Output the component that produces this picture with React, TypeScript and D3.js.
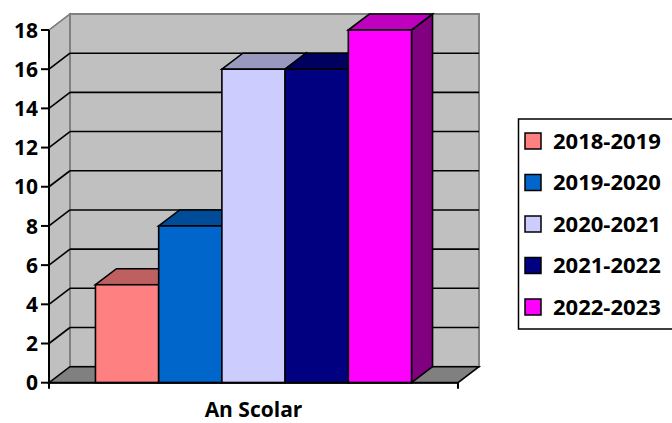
import React from "react";
import * as d3 from "d3";

const categories = ["An Scolar"];
const seriesNames = ["2018-2019", "2019-2020", "2020-2021", "2021-2022", "2022-2023"];
const seriesValues = [5, 8, 16, 16, 18];
const yTicks = [0, 2, 4, 6, 8, 10, 12, 14, 16, 18];
const frontColors = ["#FF8080", "#0066CC", "#CCCCFF", "#000080", "#FF00FF"];
const topColors = ["#BF6060", "#004C99", "#9999BF", "#000060", "#BF00BF"];
const sideColors = ["#804040", "#003366", "#666680", "#000040", "#800080"];

const W = 672;
const H = 423;
const left = 49;
const right = 458;
const y0 = 382.7;
const yTop = 30;
const DX = 21;
const DY = -16;

export default function App() {
  const y = d3.scaleLinear().domain([0, 18]).range([y0, yTop]);
  const x = d3
    .scaleBand<string>()
    .domain(seriesNames)
    .range([left, right])
    .paddingInner(0)
    .paddingOuter(0.735);
  const bw = x.bandwidth();
  const font = "'Open Sans', sans-serif";
  const legendY = d3.scalePoint<string>().domain(seriesNames).range([141, 307]);

  const pts = (arr: [number, number][]) => arr.map((p) => p.join(",")).join(" ");

  return (
    <svg
      width={W}
      height={H}
      style={{ position: "absolute", left: 0, top: 0, background: "#fff" }}
    >
      {/* left wall */}
      <polygon
        points={pts([
          [left, y0],
          [left + DX, y0 + DY],
          [left + DX, yTop + DY],
          [left, yTop],
        ])}
        fill="#C0C0C0"
        stroke="#808080"
        strokeWidth={1.5}
      />
      {/* back wall */}
      <rect
        x={left + DX}
        y={yTop + DY}
        width={right - left}
        height={y0 - yTop}
        fill="#C0C0C0"
        stroke="#808080"
        strokeWidth={2}
      />
      {/* floor */}
      <polygon
        points={pts([
          [left, y0],
          [right, y0],
          [right + DX, y0 + DY],
          [left + DX, y0 + DY],
        ])}
        fill="#808080"
        stroke="#000"
        strokeWidth={1.5}
      />
      {/* gridlines */}
      {yTicks
        .filter((t) => t > 0 && t < 18)
        .map((t) => (
          <g key={t}>
            <line
              x1={left + DX}
              x2={right + DX}
              y1={y(t) + DY}
              y2={y(t) + DY}
              stroke="#000"
              strokeWidth={1.6}
            />
            <line
              x1={left}
              x2={left + DX}
              y1={y(t)}
              y2={y(t) + DY}
              stroke="#000"
              strokeWidth={1.6}
            />
          </g>
        ))}
      <line x1={left} x2={left + DX} y1={yTop} y2={yTop + DY} stroke="#808080" strokeWidth={1.5} />
      {/* bars */}
      {seriesNames.map((s, i) => {
        const v = seriesValues[i];
        const bx = x(s)!;
        const by = y(v);
        return (
          <g key={s} stroke="#000" strokeWidth={1.6} strokeLinejoin="miter">
            <polygon
              points={pts([
                [bx + bw, by],
                [bx + bw + DX, by + DY],
                [bx + bw + DX, y0 + DY],
                [bx + bw, y0],
              ])}
              fill={sideColors[i]}
            />
            <polygon
              points={pts([
                [bx, by],
                [bx + DX, by + DY],
                [bx + bw + DX, by + DY],
                [bx + bw, by],
              ])}
              fill={topColors[i]}
            />
            <rect x={bx} y={by} width={bw} height={y0 - by} fill={frontColors[i]} />
          </g>
        );
      })}
      {/* axes */}
      <line x1={left} x2={left} y1={yTop} y2={y0} stroke="#000" strokeWidth={2} />
      <line x1={left} x2={right} y1={y0} y2={y0} stroke="#000" strokeWidth={2} />
      <line x1={right} x2={right} y1={y0} y2={y0 + 6} stroke="#000" strokeWidth={2} />
      <line x1={left} x2={left} y1={y0} y2={y0 + 6} stroke="#000" strokeWidth={2} />
      {yTicks.map((t) => (
        <g key={t}>
          <line x1={left - 8} x2={left} y1={y(t)} y2={y(t)} stroke="#000" strokeWidth={2} />
          <text
            x={38}
            y={y(t)}
            dy="0.36em"
            textAnchor="end"
            fontFamily={font}
            fontWeight="bold"
            fontSize={21}
            fill="#000"
          >
            {t}
          </text>
        </g>
      ))}
      <text
        x={(left + right) / 2}
        y={417}
        textAnchor="middle"
        fontFamily={font}
        fontWeight="bold"
        fontSize={21}
        fill="#000"
      >
        {categories[0]}
      </text>
      {/* legend */}
      <rect x={518.5} y={119} width={200} height={210} fill="#fff" stroke="#000" strokeWidth={1.5} />
      {seriesNames.map((s, i) => {
        const cy = legendY(s)!;
        return (
          <g key={s}>
            <rect
              x={525}
              y={cy - 8}
              width={16}
              height={16}
              fill={frontColors[i]}
              stroke="#000"
              strokeWidth={1.5}
            />
            <text
              x={553}
              y={cy}
              dy="0.36em"
              fontFamily={font}
              fontWeight="bold"
              fontSize={22}
              fill="#000"
            >
              {s}
            </text>
          </g>
        );
      })}
    </svg>
  );
}
